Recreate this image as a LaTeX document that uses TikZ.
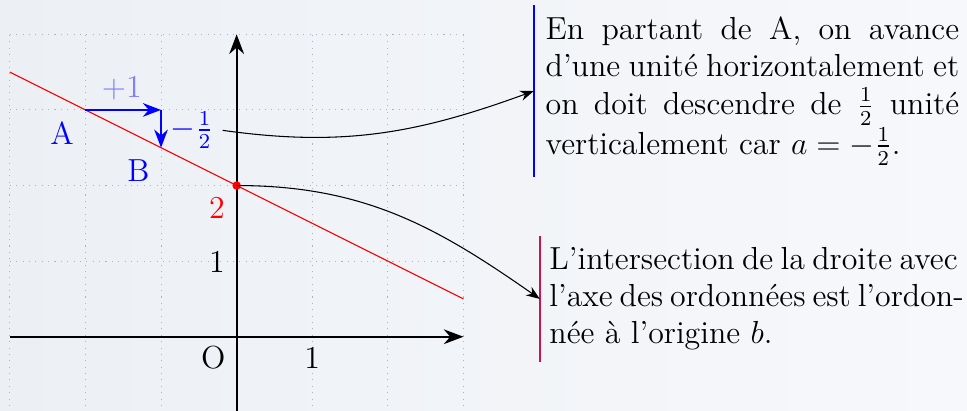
\documentclass[tikz,border=0pt]{standalone}
\usepackage{fontspec}
\usepackage{amsmath}
\usetikzlibrary{
    arrows.meta,
    positioning,
    calc
}
\definecolor{fondgauche}{RGB}{236,240,245}
\definecolor{fonddroite}{RGB}{247,248,251}
\definecolor{barrerouge}{RGB}{200,20,80}

\begin{document}
\begin{tikzpicture}[
        font=\large,
        axe/.style={
            thick,
            -{Stealth[length=2.6mm]}
        },
        deplacement/.style={
            blue,
            thick,
            -{Stealth[length=2.4mm]}
        },
        remarque/.style={
            anchor=west,
            text width=5.47cm,
            align=justify,
            inner sep=0.15cm
        },
        lien/.style={
            -{Stealth[length=1.8mm]},
            thin
        }
    ]

    \fill[left color=fondgauche, right color=fonddroite] (-3.13,-0.97) rectangle (9.66,4.454);
    \useasboundingbox (-3.13,-0.97) rectangle (9.66,4.454);

    \draw[gray!60, dotted] (-3,-1) grid (3,4);
    \draw[axe] (-3,0) -- (3,0);
    \draw[axe] (0,-1) -- (0,4);
    \draw[red] (-3,3.5) -- (3,0.5);

    \coordinate (A) at (-2,3);
    \coordinate (coin) at (-1,3);
    \coordinate (B) at (-1,2.5);
    \coordinate (b) at (0,2);
    \fill[red] (b) circle (1.6pt);

    \draw[deplacement] (A) -- (coin);
    \draw[deplacement] (coin) -- (B);

    \node[blue!50] (plusun) at (-1.52,3.29) {$+1$};
    \node[blue] (nomA) at (-2.31,2.69) {A};
    \node[blue] (nomB) at (-1.30,2.20) {B};
    \node[blue] (moinsdemi) at (-0.59,2.73) {$-\frac{1}{2}$};
    \node[red] (deux) at (-0.26,1.70) {2};
    \node (unY) at (-0.26,0.99) {1};
    \node (origine) at (-0.31,-0.28) {O};
    \node (unX) at (1,-0.28) {1};

    \node[remarque] (pente) at (3.93,3.25) {
        En partant de A, on avance d'une unité horizontalement et on doit
        descendre de $\frac{1}{2}$ unité verticalement car $a=-\frac{1}{2}$.
    };
    \node[remarque, text width=5.40cm, inner xsep=0.12cm] (ordonnee) at (4.01,0.5) {
        \makebox[\linewidth][s]{L'intersection de la droite avec}\\
        \makebox[\linewidth][s]{l'axe des ordonnées est l'ordon-}\\
        née à l'origine $b$.
    };
    \draw[blue, line width=0.8pt] (pente.north west) -- (pente.south west);
    \draw[barrerouge, line width=0.8pt] (ordonnee.north west) -- (ordonnee.south west);

    \draw[lien] (moinsdemi.east) to[out=-8, in=200] (pente.west);
    \draw[lien] (b) to[out=0, in=145] (ordonnee.west);

\end{tikzpicture}
\end{document}
